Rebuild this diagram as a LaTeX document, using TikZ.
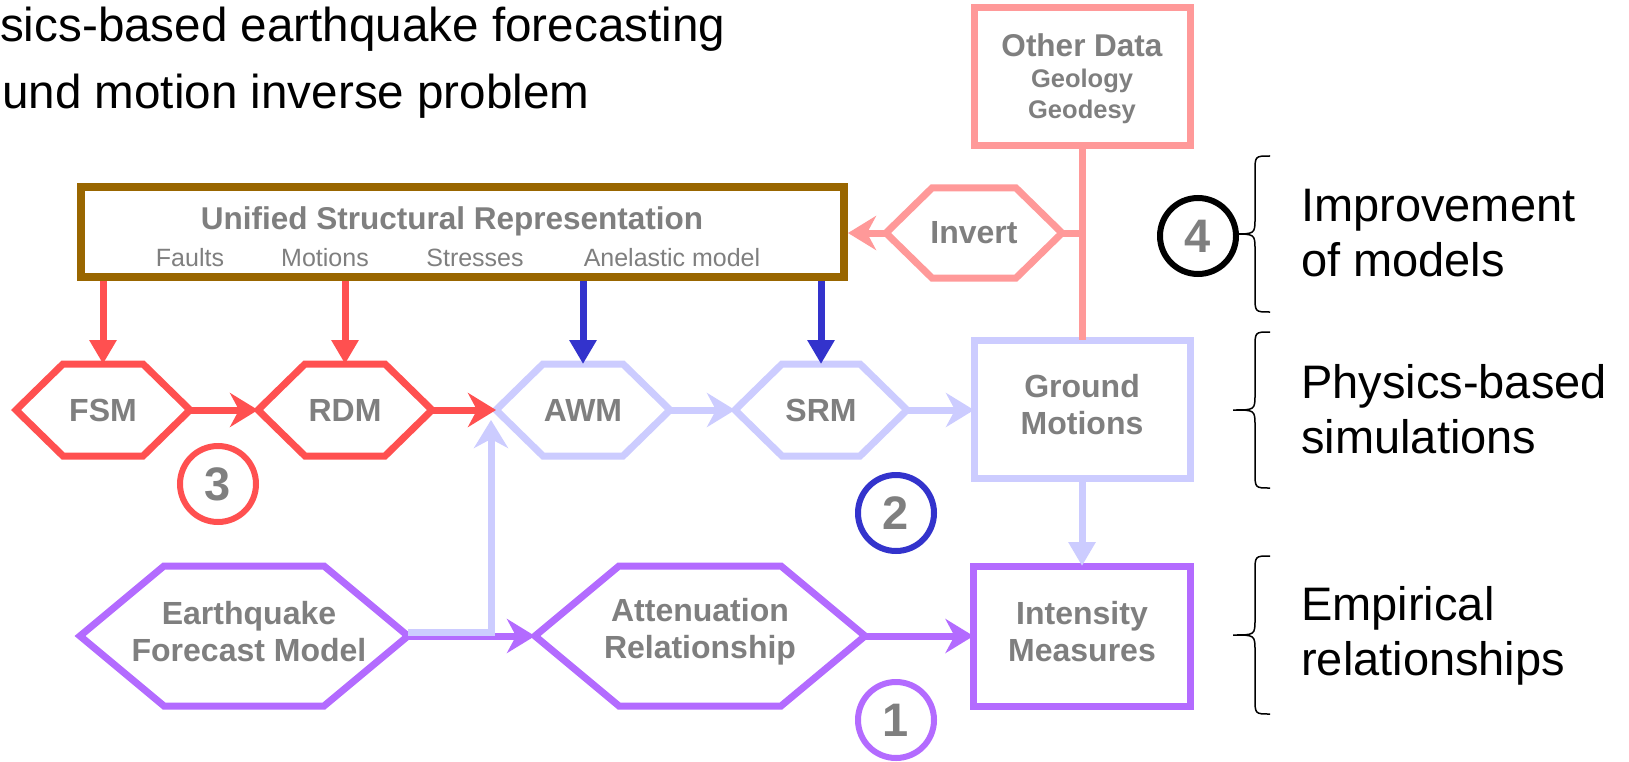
\documentclass[tikz,border=0pt]{standalone}
\usepackage{fontspec}
\setmainfont{Liberation Sans}
\usetikzlibrary{arrows.meta,calc}

\definecolor{cred}{HTML}{FF5050}
\definecolor{cblue}{HTML}{3333CC}
\definecolor{clav}{HTML}{CCCCFF}
\definecolor{cpurp}{HTML}{B36BFF}
\definecolor{csalm}{HTML}{FF9999}
\definecolor{cbrown}{HTML}{996600}
\definecolor{cgray}{HTML}{7F7F7F}

\newcommand{\fsz}[2]{\fontsize{#1}{#2}\selectfont}

% hexagonal process box: name, x, y, width, height, corner inset, colour, text
\newcommand{\hexnode}[8]{%
  \node[hexlabel, minimum width=#4pt, minimum height=#5pt] (#1) at (#2,#3) {};
  \draw[hexline, #7] (#1.west) -- ([xshift=#6pt]#1.north west)
    -- ([xshift=-#6pt]#1.north east) -- (#1.east)
    -- ([xshift=-#6pt]#1.south east) -- ([xshift=#6pt]#1.south west) -- cycle;
  \node[lbl] (#1-t) at (#1.center) {#8};
}

\begin{document}
\begin{tikzpicture}[x=1pt,y=-1pt,
  lbl/.style={text=cgray, font=\bfseries\fsz{32}{37}, align=center, inner sep=0pt},
  twoline/.style={yshift=4pt},
  hexlabel/.style={shape=rectangle, inner sep=0pt, outer sep=0pt},
  hexline/.style={line width=7pt, line join=miter},
  boxnode/.style={draw, line width=7pt, inner sep=0pt, outer sep=0pt},
  sublbl/.style={anchor=base, text=cgray, font=\fsz{25}{25}, inner sep=0pt},
  link/.style={line width=7pt},
  tipS/.style={-{Stealth[length=28pt,width=34pt,inset=9pt]}},
  tipT/.style={-{Triangle[length=24pt,width=26pt]}},
  numc/.style={circle, draw, line width=6pt, minimum size=76pt, inner sep=0pt,
    text=cgray, font=\bfseries\fsz{47}{47}},
  bracepath/.style={line width=1.5pt, black},
  side/.style={anchor=base west, font=\fsz{47}{55}, inner sep=0pt},
]
\useasboundingbox (0,0) rectangle (1629,762);
\fill[white] (0,0) rectangle (1629,762);

% heading lines
\node[side, font=\fsz{47.6}{55}] (h1) at (0,42) {sics-based earthquake forecasting};
\node[side, font=\fsz{47.6}{55}] (h2) at (2,109) {und motion inverse problem};

% unified structural representation
\node[draw=cbrown, line width=8pt, minimum width=763pt, minimum height=90pt,
  inner sep=0pt, outer sep=4pt] (urs) at (462.5,232) {};
\node[lbl, anchor=base, font=\bfseries\fsz{31.5}{31}] (urst) at (452,229)
  {Unified Structural Representation};
\node[sublbl] (sf) at (190,266) {Faults};
\node[sublbl] (sm) at (325,266) {Motions};
\node[sublbl] (ss) at (475,266) {Stresses};
\node[sublbl] (sa) at (672,266) {Anelastic model};

% other data
\node[boxnode, draw=csalm, minimum width=216pt, minimum height=138pt] (od) at (1082,77) {};
\node[lbl, anchor=base, font=\bfseries\fsz{31.5}{31}] (od1) at (1082,57) {Other Data};
\node[lbl, anchor=base, font=\bfseries\fsz{25.5}{25}] (od2) at (1082,88) {Geology};
\node[lbl, anchor=base, font=\bfseries\fsz{25.5}{25}] (od3) at (1082,119) {Geodesy};

% rectangular result boxes
\node[boxnode, draw=clav, minimum width=216pt, minimum height=138pt] (gm) at (1082,409) {};
\node[lbl, twoline] (gm-t) at (gm.center) {Ground\\Motions};
\node[boxnode, draw=cpurp, minimum width=217pt, minimum height=140pt] (im) at (1082,636) {};
\node[lbl, twoline] (im-t) at (im.center) {Intensity\\Measures};

% hexagonal steps
\hexnode{fsm}{103}{410}{174}{92}{47}{cred}{FSM}
\hexnode{rdm}{345}{410}{174}{92}{47}{cred}{RDM}
\hexnode{awm}{583}{410}{174}{92}{47}{clav}{AWM}
\hexnode{srm}{821}{410}{172}{92}{47}{clav}{SRM}
\hexnode{inv}{974}{233}{176}{90}{46}{csalm}{Invert}
\hexnode{efm}{244}{636}{328}{140}{84}{cpurp}{}
\hexnode{att}{700}{636}{330}{140}{84}{cpurp}{}
\node[lbl, twoline] (efm-l) at ([xshift=5pt]efm.center) {Earthquake\\Forecast Model};
\node[lbl, twoline] (att-l) at (att.center) {Attenuation\\Relationship};

% connectors
\draw[link, cred, tipT] (fsm.north |- urs.south) -- (fsm.north);
\draw[link, cred, tipT] (rdm.north |- urs.south) -- (rdm.north);
\draw[link, cblue, tipT] (awm.north |- urs.south) -- (awm.north);
\draw[link, cblue, tipT] (srm.north |- urs.south) -- (srm.north);
\draw[link, cred, tipS] (fsm.east) -- (rdm.west);
\draw[link, cred, tipS] (rdm.east) -- (awm.west);
\draw[link, clav, tipS] (awm.east) -- (srm.west);
\draw[link, clav, tipS] (srm.east) -- (srm.east -| gm.west);
\draw[link, clav, tipT] (gm.south) -- (im.north);
\draw[link, csalm] (od.south) -- (gm.north);
\draw[link, csalm] (inv.east) -- (inv.east -| od.south);
\draw[link, csalm, tipS] (inv.west) -- (inv.west -| urs.east);
\draw[link, cpurp, tipS] (efm.east) -- (att.west);
\draw[link, cpurp, tipS] (att.east) -- (att.east -| im.west);
\draw[link, clav, tipS] ([yshift=4pt]efm.east) -| ([xshift=-5pt,yshift=-10pt]awm.west);

% numbered markers
\node[numc, draw=cred] (n3) at (218,484) {3};
\node[numc, draw=cblue] (n2) at (896,513) {2};
\node[numc, draw=cpurp] (n1) at (896,720) {1};
\node[numc, draw=black] (n4) at (1198,236) {4};

% braces
\draw[bracepath] (1270,156) .. controls (1255,156) .. (1255,172) -- (1255,218)
  .. controls (1255,234) .. (1233,234) .. controls (1255,234) .. (1255,250)
  -- (1255,296) .. controls (1255,312) .. (1270,312);
\draw[bracepath] (1270,332) .. controls (1255,332) .. (1255,348) -- (1255,394)
  .. controls (1255,410) .. (1233,410) .. controls (1255,410) .. (1255,426)
  -- (1255,472) .. controls (1255,488) .. (1270,488);
\draw[bracepath] (1270,556) .. controls (1255,556) .. (1255,572) -- (1255,619)
  .. controls (1255,635) .. (1233,635) .. controls (1255,635) .. (1255,651)
  -- (1255,698) .. controls (1255,714) .. (1270,714);

% brace captions
\node[side] (t1a) at (1301,221) {Improvement};
\node[side] (t1b) at (1301,276) {of models};
\node[side] (t2a) at (1301,398) {Physics-based};
\node[side] (t2b) at (1301,453) {simulations};
\node[side] (t3a) at (1301,620) {Empirical};
\node[side] (t3b) at (1301,675) {relationships};
\end{tikzpicture}
\end{document}
